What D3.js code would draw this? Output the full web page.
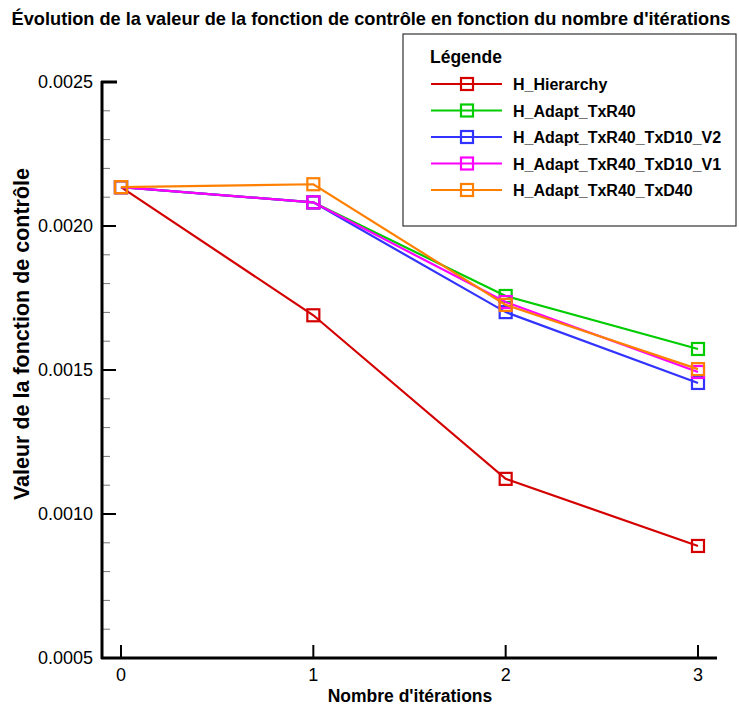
<!DOCTYPE html>
<html><head><meta charset="utf-8">
<script src="https://cdn.jsdelivr.net/npm/d3@7"></script>
<style>body{margin:0;background:#fff}svg{display:block}</style>
</head><body>
<svg id="c" width="739" height="710"></svg>
<script>
const iterations = [0, 1, 2, 3];
const seriesNames = ["H_Hierarchy", "H_Adapt_TxR40", "H_Adapt_TxR40_TxD10_V2", "H_Adapt_TxR40_TxD10_V1", "H_Adapt_TxR40_TxD40"];
const hHierarchy = [0.002135, 0.00169, 0.001122, 0.000889];
const hAdaptTxR40 = [0.002135, 0.002082, 0.001757, 0.001573];
const hAdaptTxR40TxD10V2 = [0.002135, 0.002082, 0.001701, 0.001455];
const hAdaptTxR40TxD10V1 = [0.002135, 0.002082, 0.001736, 0.001493];
const hAdaptTxR40TxD40 = [0.002135, 0.002145, 0.001726, 0.001503];
const colors = ["#d40000", "#00cc00", "#3333ff", "#ff00ff", "#ff8000"];
const yTicks = [0.0005, 0.0010, 0.0015, 0.0020, 0.0025];
const xTicks = [0, 1, 2, 3];

const seriesValues = [hHierarchy, hAdaptTxR40, hAdaptTxR40TxD10V2, hAdaptTxR40TxD10V1, hAdaptTxR40TxD40];
const svg = d3.select("#c");
const font = "Liberation Sans, Arial, sans-serif";
const x = d3.scaleLinear().domain([0, 3]).range([121, 698]);
const y = d3.scaleLinear().domain([0.0005, 0.0025]).range([658, 82]);

svg.append("text").attr("x", 371).attr("y", 25).attr("text-anchor", "middle")
  .attr("font-family", font).attr("font-weight", "bold").attr("font-size", 18.2)
  .text("Évolution de la valeur de la fonction de contrôle en fonction du nombre d'itérations");

// minor y ticks
const minor = d3.range(0.0005, 0.00251, 0.0001);
svg.append("g").selectAll("line").data(minor).join("line")
  .attr("x1", 102).attr("x2", 110).attr("y1", d => y(d)).attr("y2", d => y(d))
  .attr("stroke", "#777").attr("stroke-width", 1);
// major y ticks
svg.append("g").selectAll("line").data(yTicks).join("line")
  .attr("x1", 102).attr("x2", 116).attr("y1", d => y(d)).attr("y2", d => y(d))
  .attr("stroke", "#000").attr("stroke-width", 2);
svg.append("g").selectAll("text").data(yTicks).join("text")
  .attr("x", 93).attr("y", d => y(d) + 6).attr("text-anchor", "end")
  .attr("font-family", font).attr("font-size", 18).text(d => d3.format(".4f")(d));
// x ticks
svg.append("g").selectAll("line").data(xTicks).join("line")
  .attr("x1", d => x(d)).attr("x2", d => x(d)).attr("y1", 658).attr("y2", 645)
  .attr("stroke", "#000").attr("stroke-width", 2);
svg.append("g").selectAll("text").data(xTicks).join("text")
  .attr("x", d => x(d)).attr("y", 681).attr("text-anchor", "middle")
  .attr("font-family", font).attr("font-size", 18).text(d => d);
// axes lines
svg.append("line").attr("x1", 102).attr("x2", 102).attr("y1", 81).attr("y2", 659).attr("stroke", "#000").attr("stroke-width", 3);
svg.append("line").attr("x1", 101).attr("x2", 717).attr("y1", 658).attr("y2", 658).attr("stroke", "#000").attr("stroke-width", 3);
svg.append("line").attr("x1", 101).attr("x2", 117).attr("y1", 82).attr("y2", 82).attr("stroke", "#000").attr("stroke-width", 3);

svg.append("text").attr("x", 410).attr("y", 702).attr("text-anchor", "middle")
  .attr("font-family", font).attr("font-weight", "bold").attr("font-size", 17.5)
  .text("Nombre d'itérations");
svg.append("text").attr("transform", "translate(29,334) rotate(-90)").attr("text-anchor", "middle")
  .attr("font-family", font).attr("font-weight", "bold").attr("font-size", 21.5)
  .text("Valeur de la fonction de contrôle");

const line = d3.line().x((d, i) => x(iterations[i])).y(d => y(d));
const ms = 12;
seriesValues.forEach((vals, si) => {
  const g = svg.append("g");
  g.append("path").attr("d", line(vals)).attr("fill", "none")
    .attr("stroke", colors[si]).attr("stroke-width", 2.2);
  g.selectAll("rect").data(vals).join("rect")
    .attr("x", (d, i) => x(iterations[i]) - ms / 2).attr("y", d => y(d) - ms / 2)
    .attr("width", ms).attr("height", ms).attr("fill", "none")
    .attr("stroke", colors[si]).attr("stroke-width", 2.2);
});

// legend
const lg = svg.append("g");
lg.append("rect").attr("x", 403).attr("y", 34).attr("width", 333).attr("height", 192)
  .attr("fill", "#fff").attr("stroke", "#333").attr("stroke-width", 1.2);
lg.append("text").attr("x", 430).attr("y", 63).attr("font-family", font)
  .attr("font-weight", "bold").attr("font-size", 17.5).text("Légende");
seriesNames.forEach((name, i) => {
  const yy = 84 + i * 26.5;
  lg.append("line").attr("x1", 431).attr("x2", 502).attr("y1", yy).attr("y2", yy)
    .attr("stroke", colors[i]).attr("stroke-width", 2.2);
  lg.append("rect").attr("x", 467 - ms / 2).attr("y", yy - ms / 2).attr("width", ms).attr("height", ms)
    .attr("fill", "none").attr("stroke", colors[i]).attr("stroke-width", 2.2);
  lg.append("text").attr("x", 513).attr("y", yy + 6).attr("font-family", font)
    .attr("font-weight", "bold").attr("font-size", 16).text(name);
});
</script>
</body></html>
